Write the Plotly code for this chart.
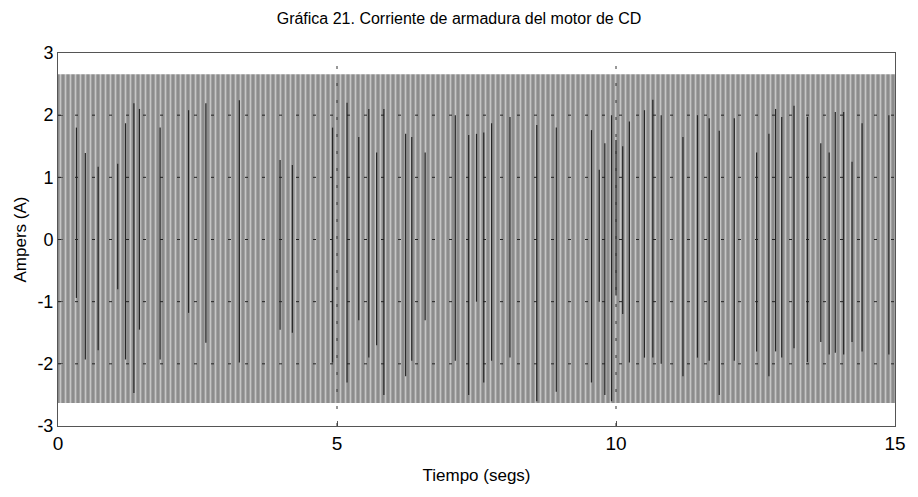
import plotly.graph_objects as go

# Envelope of the dense armature-current oscillation
env_t = [0.0, 15.0]
env_upper = [2.66, 2.66]
env_lower = [-2.63, -2.63]

# Visible dark streaks (aliasing of the oscillation): time, top value, bottom value
streak_t = [0.33, 0.49, 0.72, 1.07, 1.21, 1.36, 1.46, 1.83, 2.34, 2.65, 3.25, 3.98, 4.20, 4.92,
            5.18, 5.39, 5.57, 5.71, 5.84, 6.23, 6.34, 6.58, 7.12, 7.36, 7.50, 7.63, 7.77, 8.10,
            8.58, 8.93, 9.56, 9.70, 9.80, 9.92, 10.00, 10.12, 10.24, 10.51, 10.66, 10.81, 11.20,
            11.46, 11.67, 11.85, 12.12, 12.52, 12.74, 12.86, 12.97, 13.19, 13.43, 13.67, 13.82,
            13.93, 14.08, 14.23, 14.41, 14.89]
streak_top = [1.80, 1.39, 1.17, 1.22, 1.87, 2.19, 2.10, 1.80, 2.08, 2.19, 2.24, 1.28, 1.20, 1.80,
              2.20, 1.65, 2.10, 1.40, 2.10, 1.70, 1.65, 1.40, 2.00, 1.68, 1.70, 1.72, 1.87, 1.97,
              1.84, 1.80, 1.76, 1.12, 1.55, 2.00, 1.60, 1.50, 1.90, 2.08, 2.25, 2.00, 1.65,
              2.00, 1.95, 1.75, 1.95, 1.40, 1.70, 2.10, 1.97, 2.15, 1.97, 1.55, 1.40,
              2.05, 2.05, 1.25, 1.87, 2.00]
streak_bot = [-0.94, -1.93, -1.78, -0.80, -1.93, -2.47, -1.45, -1.93, -1.18, -1.66, -1.98, -1.45, -1.50, -1.98,
              -2.30, -1.30, -1.90, -1.70, -2.50, -2.20, -1.95, -1.30, -1.95, -2.50, -1.00, -2.30, -1.95, -1.90,
              -2.60, -2.45, -2.30, -1.00, -2.50, -2.60, -0.90, -1.20, -1.98, -1.90, -1.90, -2.00, -2.20,
              -1.90, -1.95, -2.50, -1.95, -1.80, -2.20, -1.80, -1.90, -1.75, -1.97, -1.65, -1.85,
              -1.82, -1.85, -1.65, -1.80, -1.85]

x_ticks = [0, 5, 10, 15]
y_ticks = [-3, -2, -1, 0, 1, 2, 3]
x_grid = [5, 10]
y_grid = [-2, -1, 0, 1, 2]

fig = go.Figure()

fig.add_trace(go.Scatter(x=env_t, y=env_lower, mode="lines", line=dict(width=0, color="#8a8a8a"),
                         showlegend=False, hoverinfo="skip"))
fig.add_trace(go.Scatter(x=env_t, y=env_upper, mode="lines", line=dict(width=0, color="#8a8a8a"),
                         fill="tonexty", fillcolor="#8c8c8c",
                         fillpattern=dict(shape="|", size=5, solidity=0.35,
                                          fgcolor="#c6c6c6", bgcolor="#8c8c8c", fillmode="replace"),
                         showlegend=False, hoverinfo="skip"))

sx, sy = [], []
for t, a, b in zip(streak_t, streak_top, streak_bot):
    sx += [t, t, None]
    sy += [a, b, None]
fig.add_trace(go.Scatter(x=sx, y=sy, mode="lines", line=dict(width=1.2, color="#262626"),
                         showlegend=False, hoverinfo="skip"))

shapes = []
for g in y_grid:
    shapes.append(dict(type="line", xref="paper", yref="y", x0=0, x1=1, y0=g, y1=g,
                       line=dict(color="#222222", width=1, dash="3px,14px"), layer="above"))
for g in x_grid:
    shapes.append(dict(type="line", xref="x", yref="paper", x0=g, x1=g, y0=0, y1=1,
                       line=dict(color="#333333", width=1, dash="3px,14px"), layer="above"))

font_fam = "Liberation Sans, Arial, sans-serif"
fig.update_layout(
    width=918, height=497,
    margin=dict(l=58, r=20, t=53, b=71),
    paper_bgcolor="white", plot_bgcolor="white",
    shapes=shapes,
    title=dict(text="Gráfica 21. Corriente de armadura del motor de CD", x=0.5, xanchor="center",
               y=0.962, yanchor="middle", font=dict(family=font_fam, size=16, color="#000000")),
    xaxis=dict(range=[0, 15], tickvals=x_ticks, ticktext=[str(v) for v in x_ticks],
               showgrid=False, zeroline=False, showline=True, linecolor="#555555", mirror=True,
               ticks="inside", ticklen=5, tickcolor="#555555",
               tickfont=dict(family=font_fam, size=19, color="#000000"),
               title=dict(text="Tiempo (segs)", font=dict(family=font_fam, size=17, color="#000000"),
                          standoff=16)),
    yaxis=dict(range=[-3, 3], tickvals=y_ticks, ticktext=[str(v) for v in y_ticks],
               showgrid=False, zeroline=False, showline=True, linecolor="#555555", mirror=True,
               ticks="inside", ticklen=5, tickcolor="#555555",
               tickfont=dict(family=font_fam, size=18, color="#000000"),
               title=dict(text="Ampers (A)", font=dict(family=font_fam, size=17, color="#000000"),
                          standoff=6)),
)

fig.write_html("out.html")
